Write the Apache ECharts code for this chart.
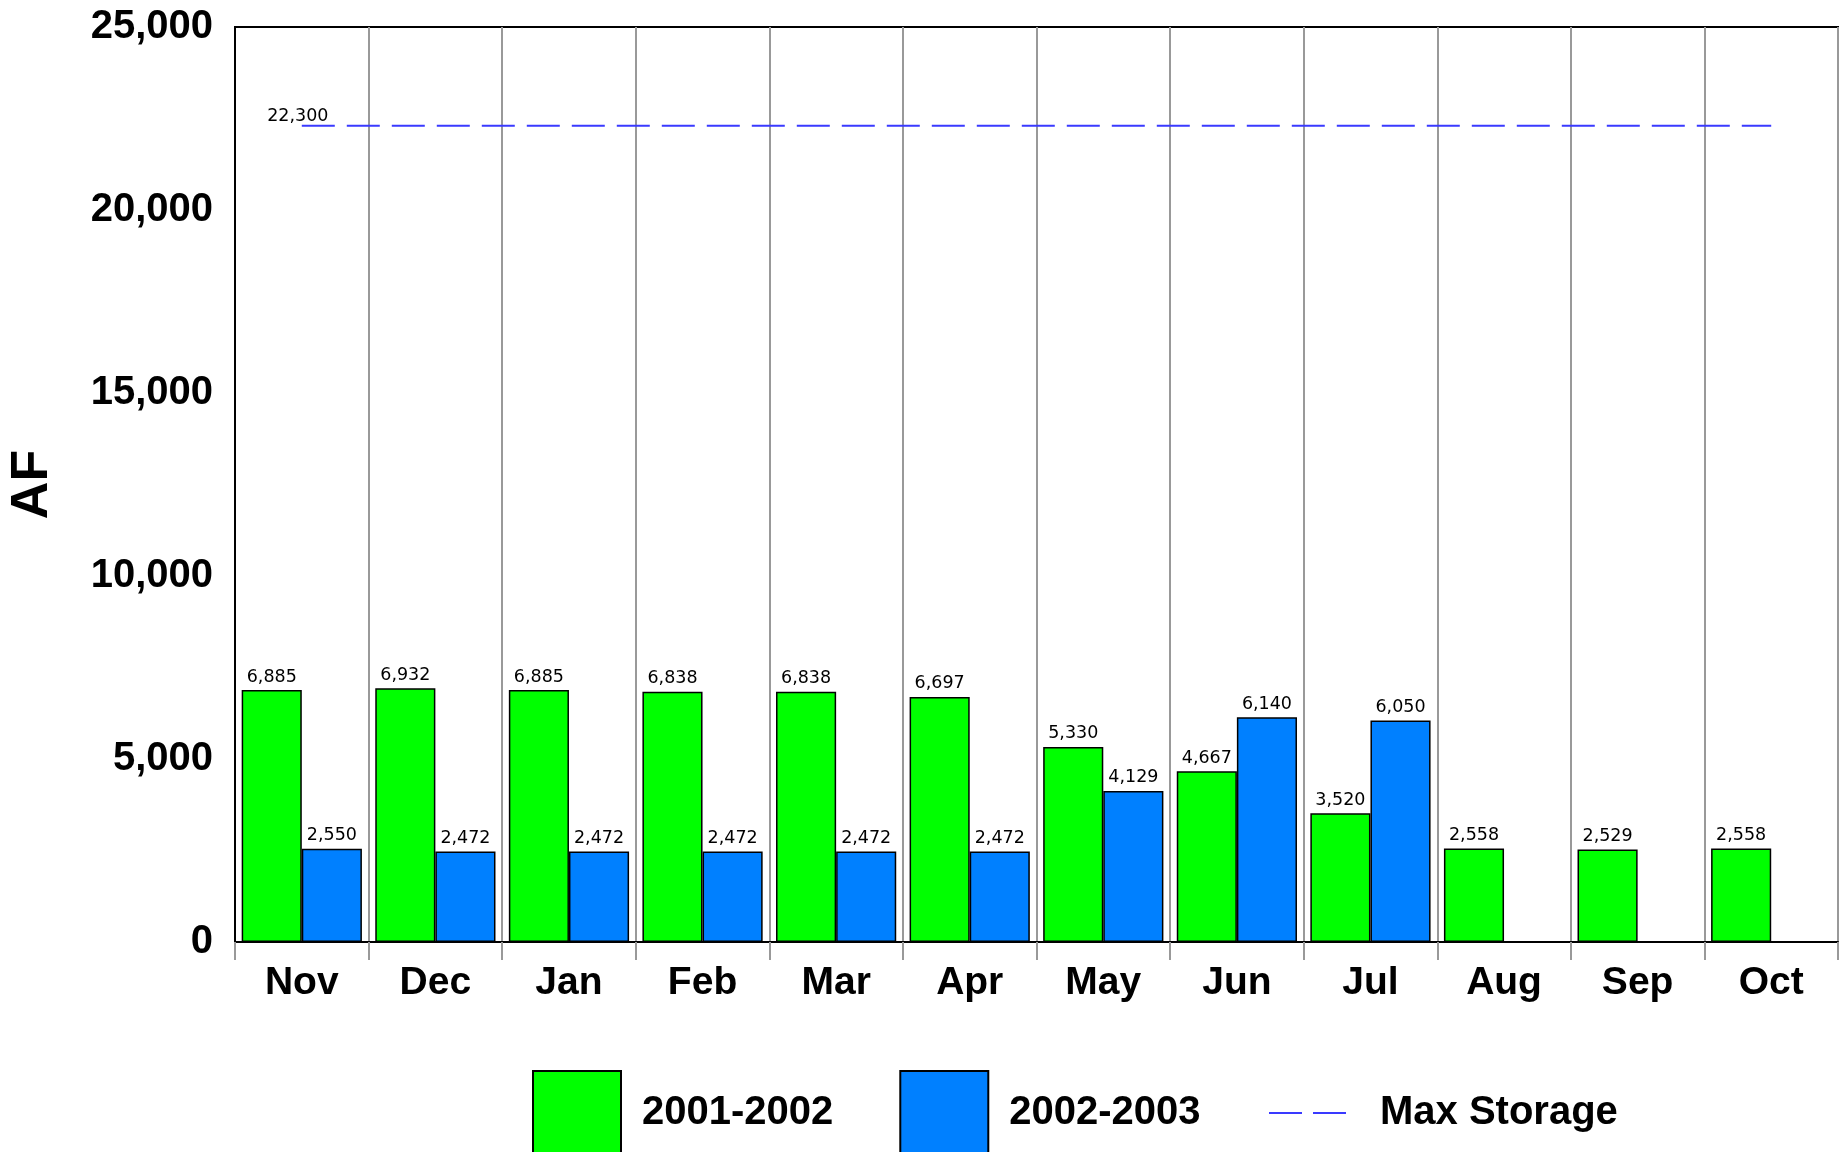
<!DOCTYPE html>
<html>
<head>
<meta charset="utf-8">
<script src="https://cdn.jsdelivr.net/npm/echarts@6/dist/echarts.min.js"></script>
<style>
html,body{margin:0;padding:0;background:#fff;}
#chart{width:1845px;height:1152px;}
</style>
</head>
<body>
<div id="chart"></div>
<script>
const months = ['Nov','Dec','Jan','Feb','Mar','Apr','May','Jun','Jul','Aug','Sep','Oct'];
const season2001 = [6885, 6932, 6885, 6838, 6838, 6697, 5330, 4667, 3520, 2558, 2529, 2558];
const season2002 = [2550, 2472, 2472, 2472, 2472, 2472, 4129, 6140, 6050, null, null, null];
const maxStorage = [22300, 22300, 22300, 22300, 22300, 22300, 22300, 22300, 22300, 22300, 22300, 22300];
const yTicks = [0, 5000, 10000, 15000, 20000, 25000];

const fmt = v => Number(v).toLocaleString('en-US');
const chart = echarts.init(document.getElementById('chart'), null, {renderer: 'canvas'});

const barLabel = {
  show: true, position: 'top', distance: 4,
  fontFamily: 'DejaVu Sans', fontSize: 17.5, color: '#000',
  formatter: p => fmt(p.value)
};

chart.setOption({
  animation: false,
  backgroundColor: '#fff',
  grid: {left: 235, right: 7, top: 27, bottom: 210, outerBoundsMode: 'none', containLabel: false,
         show: true, borderColor: '#000', borderWidth: 2, backgroundColor: 'transparent'},
  legend: [
    {
      data: [{name: '2001-2002', icon: 'rect'}, {name: '2002-2003', icon: 'rect'}],
      left: 527, top: 1065, orient: 'horizontal',
      itemWidth: 88, itemHeight: 84, itemGap: 66,
      textStyle: {fontFamily: 'Liberation Sans', fontWeight: 'bold', fontSize: 40, color: '#000', padding: [0, 0, 0, 16]},
      selectedMode: false
    },
    {
      data: [{name: 'Max Storage', icon: 'path://M0,0h33v2h-33z M44,0h33v2h-33z'}],
      left: 1264, top: 1086,
      itemWidth: 77, itemHeight: 2,
      itemStyle: {color: '#3a3aff', borderWidth: 0},
      textStyle: {fontFamily: 'Liberation Sans', fontWeight: 'bold', fontSize: 40, lineHeight: 44, color: '#000', padding: [0, 0, 0, 29]},
      selectedMode: false
    }
  ],
  xAxis: {
    type: 'category',
    data: months,
    boundaryGap: true,
    axisLine: {show: true, lineStyle: {color: '#000', width: 2}},
    axisTick: {show: true, length: 18, lineStyle: {color: '#999', width: 2}},
    axisLabel: {fontFamily: 'Liberation Sans', fontWeight: 'bold', fontSize: 39, color: '#000', margin: 22},
    splitLine: {show: true, lineStyle: {color: '#999', width: 2}}
  },
  yAxis: {
    type: 'value',
    min: yTicks[0], max: yTicks[yTicks.length - 1], interval: yTicks[1] - yTicks[0],
    name: 'AF', nameLocation: 'middle', nameGap: 176, nameRotate: 90,
    nameTextStyle: {fontFamily: 'Liberation Sans', fontWeight: 'bold', fontSize: 52, color: '#000'},
    axisLine: {show: true, lineStyle: {color: '#000', width: 2}},
    axisTick: {show: false},
    splitLine: {show: false},
    axisLabel: {fontFamily: 'Liberation Sans', fontWeight: 'bold', fontSize: 40, color: '#000', margin: 22, formatter: v => fmt(v)}
  },
  series: [
    {
      name: '2001-2002', type: 'bar', data: season2001,
      barGap: '0%', barCategoryGap: '10%',
      itemStyle: {color: '#00ff00', borderColor: '#000', borderWidth: 1.5},
      label: barLabel
    },
    {
      name: '2002-2003', type: 'bar', data: season2002,
      barGap: '0%', barCategoryGap: '10%',
      itemStyle: {color: '#0080ff', borderColor: '#000', borderWidth: 1.5},
      label: barLabel
    },
    {
      name: 'Max Storage', type: 'line', data: maxStorage,
      symbol: 'circle', symbolSize: 0, showSymbol: true, z: 5,
      lineStyle: {color: '#3a3aff', width: 2, type: [33, 12]},
      itemStyle: {color: '#3a3aff'},
      label: {
        show: true, position: 'top', distance: 0, offset: [-4, 0],
        fontFamily: 'DejaVu Sans', fontSize: 17.5, color: '#000',
        formatter: p => p.dataIndex === 0 ? fmt(p.value) : ''
      }
    }
  ]
});
</script>
</body>
</html>
